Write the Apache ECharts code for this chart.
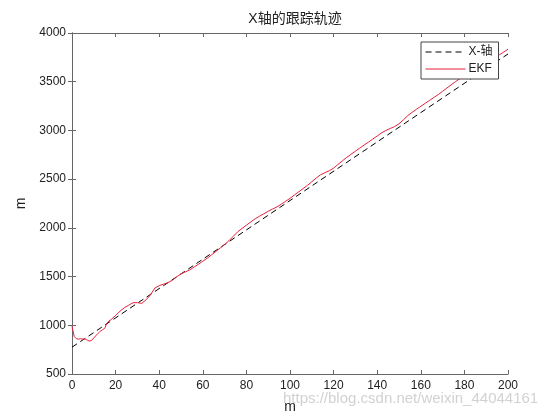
<!DOCTYPE html>
<html><head><meta charset="utf-8">
<script src="https://cdn.jsdelivr.net/npm/echarts@6/dist/echarts.min.js"></script>
<style>html,body{margin:0;padding:0;background:#fff}#c{width:560px;height:420px}</style>
</head><body><div id="c"></div>
<script>
const titleText = 'X轴的跟踪轨迹';
const xLabel = 'm';
const yLabel = 'm';
const seriesNames = ['X-轴', 'EKF'];
const trueT = [0, 200];
const trueX = [775, 3785];
const ekfT = [0,1,2,3,4,5,6,7,8,9,10,11,12,13,14,15,16,17,18,20,22,24,26,28,30,32,34,36,38,40,42,44,46,48,50,52,54,56,58,60,62,64,66,68,70,72,74,76,78,80,82,84,86,88,90,92,94,96,98,100,102,104,106,108,110,112,114,116,118,120,122,124,126,128,130,132,134,136,138,140,142,144,146,148,150,152,154,156,158,160,162,164,166,168,170,172,174,176,178,180,182,184,186,188,190,192,194,196,198,200];
const ekfX = [990,885,862,858,862,858,860,848,838,845,870,895,918,940,955,968,1020,1045,1060,1101,1144,1180,1206,1232,1232,1225,1262,1312,1382,1407,1422,1437,1462,1497,1528,1548,1568,1598,1626,1658,1688,1723,1758,1793,1829,1869,1914,1959,1994,2027,2061,2092,2119,2144,2170,2193,2215,2243,2273,2303,2337,2370,2403,2436,2473,2511,2545,2566,2586,2613,2651,2687,2723,2755,2787,2818,2850,2880,2912,2943,2975,3000,3020,3040,3068,3108,3151,3185,3217,3248,3278,3308,3338,3368,3402,3436,3469,3502,3533,3560,3586,3612,3639,3666,3693,3720,3747,3775,3804,3833];
const watermark = 'https://blog.csdn.net/weixin_44044161';

const font = "'Liberation Sans', Arial, 'Noto Sans CJK SC', sans-serif";
const axisCol = '#666';
const chart = echarts.init(document.getElementById('c'));
chart.setOption({
  animation: false,
  backgroundColor: '#fff',
  title: { text: titleText, left: 290, top: 7, textAlign: 'center',
    textStyle: { fontFamily: font, fontSize: 14, fontWeight: 'normal', color: '#222' } },
  grid: { left: 72, right: 52, top: 33, bottom: 46 },
  legend: { orient: 'vertical', left: 421, top: 42, itemWidth: 40, itemHeight: 10, itemGap: 5,
    padding: [4, 6, 4, 4], borderColor: '#444', borderWidth: 1, backgroundColor: '#fff',
    itemStyle: { opacity: 0 }, lineStyle: { width: 1 },
    textStyle: { fontFamily: font, fontSize: 12, color: '#222', padding: [0, 0, 0, -2] },
    data: seriesNames },
  xAxis: [
    { type: 'value', min: 0, max: 200, interval: 20, name: xLabel, nameLocation: 'middle', nameGap: 26,
      nameTextStyle: { fontFamily: font, fontSize: 14, color: '#222' },
      axisLine: { lineStyle: { color: axisCol } }, axisTick: { inside: true, length: 4, lineStyle: { color: axisCol } },
      axisLabel: { fontFamily: font, fontSize: 12, color: '#222', margin: 6, formatter: v => String(v) }, splitLine: { show: false } },
    { type: 'value', min: 0, max: 200, interval: 20, position: 'top',
      axisLine: { show: true, lineStyle: { color: axisCol } }, axisTick: { inside: true, length: 4, lineStyle: { color: axisCol } },
      axisLabel: { show: false }, splitLine: { show: false } }
  ],
  yAxis: [
    { type: 'value', min: 500, max: 4000, interval: 500, name: yLabel, nameLocation: 'middle', nameGap: 38,
      nameTextStyle: { fontFamily: font, fontSize: 14, color: '#222' },
      axisLine: { show: true, lineStyle: { color: axisCol } }, axisTick: { show: true, inside: true, length: 4, lineStyle: { color: axisCol } },
      axisLabel: { fontFamily: font, fontSize: 12, color: '#222', margin: 6, formatter: v => String(v) }, splitLine: { show: false } },
    { type: 'value', min: 500, max: 4000, interval: 500, position: 'right',
      axisLine: { show: true, lineStyle: { color: axisCol } }, axisTick: { show: true, inside: true, length: 4, lineStyle: { color: axisCol } },
      axisLabel: { show: false }, splitLine: { show: false } }
  ],
  series: [
    { name: seriesNames[0], type: 'line', symbol: 'none', data: trueT.map((t, i) => [t, trueX[i]]),
      lineStyle: { color: '#000', width: 1, type: [6, 4] }, itemStyle: { color: '#000' }, z: 2 },
    { name: seriesNames[1], type: 'line', symbol: 'none', data: ekfT.map((t, i) => [t, ekfX[i]]),
      lineStyle: { color: '#e8203a', width: 1 }, itemStyle: { color: '#e8203a' }, z: 3 }
  ],
  graphic: [
    { type: 'text', left: 283, top: 391, z: 100,
      style: { text: watermark, fontFamily: font, fontSize: 15, fill: 'rgba(190,190,190,0.7)' } }
  ]
});
</script></body></html>
